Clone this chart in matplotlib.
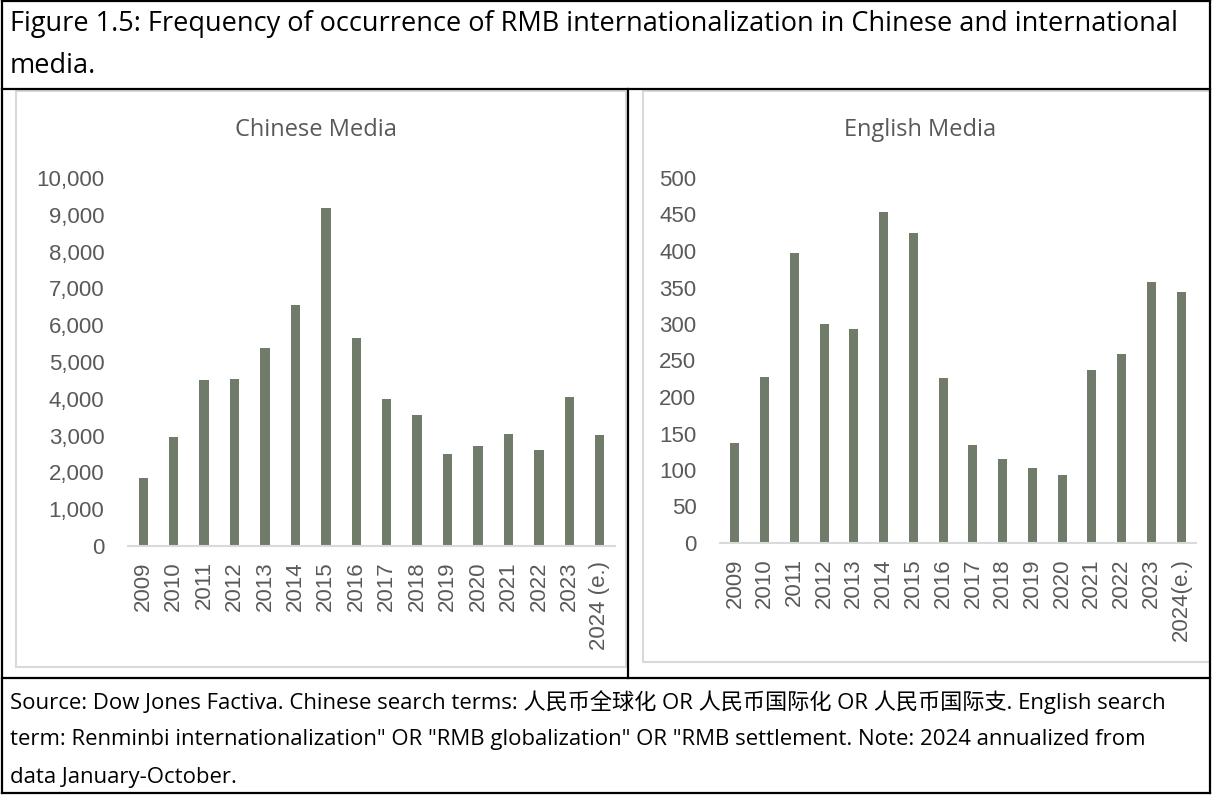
import matplotlib
matplotlib.use("Agg")
import matplotlib.pyplot as plt
from matplotlib.lines import Line2D
from matplotlib.patches import Rectangle

# data: yearly article counts
years = ["2009", "2010", "2011", "2012", "2013", "2014", "2015", "2016",
         "2017", "2018", "2019", "2020", "2021", "2022", "2023"]
cn_labels = years + ["2024 (e.)"]
en_labels = years + ["2024(e.)"]
cn_counts = [1860, 2955, 4520, 4550, 5385, 6545, 9195, 5665,
             4005, 3565, 2495, 2710, 3035, 2610, 4045, 3010]
en_counts = [137, 227, 397, 300, 293, 453, 424, 226,
             134, 115, 103, 93, 237, 259, 358, 344]

cn_ticks = list(range(0, 10001, 1000))
en_ticks = list(range(0, 501, 50))

title_lines = ["Figure 1.5: Frequency of occurrence of RMB internationalization in Chinese and international",
               "media."]
source_lines = ["Source: Dow Jones Factiva. Chinese search terms: 人民币全球化 OR 人民币国际化 OR 人民币国际支. English search",
                "term: Renminbi internationalization\" OR \"RMB globalization\" OR \"RMB settlement. Note: 2024 annualized from",
                "data January-October."]

BAR = "#717B69"
GREY = "#595959"
LIGHT = "#D9D9D9"

W, H = 1212, 796
fig = plt.figure(figsize=(W / 100, H / 100), dpi=100)


def fx(x):
    return x / W


def fy(y):
    return 1 - y / H


def hline(y, x0, x1, color="black", lw=1.6):
    fig.add_artist(Line2D([fx(x0), fx(x1)], [fy(y), fy(y)], color=color, lw=lw))


def vline(x, y0, y1, color="black", lw=1.6):
    fig.add_artist(Line2D([fx(x), fx(x)], [fy(y0), fy(y1)], color=color, lw=lw))


# light frames around each chart
for (x0, y0, x1, y1) in [(16, 91, 626, 667), (643, 91, 1210, 662)]:
    fig.add_artist(Rectangle((fx(x0), fy(y1)), fx(x1) - fx(x0), fy(y0) - fy(y1),
                             fill=False, edgecolor=LIGHT, lw=1.5))

# table borders
hline(1, 2, 1210)
hline(793, 2, 1210)
vline(2, 1, 793)
vline(1210, 1, 793)
hline(89, 2, 1210)
hline(678, 2, 1210)
vline(628, 89, 678)


def bar_panel(rect, values, labels, ticks, fmt, title, title_x):
    ax = fig.add_axes([fx(rect[0]), fy(rect[3]), fx(rect[2] - rect[0]), (rect[3] - rect[1]) / H])
    x = range(len(values))
    ax.bar(x, values, width=0.31, color=BAR)
    ax.set_xlim(-0.5, len(values) - 0.5)
    ax.set_ylim(ticks[0], ticks[-1])
    ax.set_yticks(ticks)
    ax.set_yticklabels([fmt(t) for t in ticks], family="Liberation Sans", fontsize=16, color=GREY)
    ax.set_xticks(list(x))
    ax.set_xticklabels(labels, rotation=90, family="Liberation Sans", fontsize=16, color=GREY)
    ax.tick_params(axis="y", length=0, pad=17)
    ax.tick_params(axis="x", length=0, pad=11)
    for s in ["top", "right", "left"]:
        ax.spines[s].set_visible(False)
    ax.spines["bottom"].set_color(LIGHT)
    ax.spines["bottom"].set_linewidth(1.5)
    fig.text(fx(title_x), fy(130), title, ha="center", va="center",
             family="Open Sans", fontsize=17, color=GREY)
    return ax


bar_panel((128, 178, 615, 546), cn_counts, cn_labels, cn_ticks,
          lambda t: f"{t:,}", "Chinese Media", 316)
bar_panel((720, 178, 1196, 543), en_counts, en_labels, en_ticks,
          lambda t: f"{t}", "English Media", 920)

renderer = fig.canvas.get_renderer()


def text_block(x, ys, lines, width, family):
    # size the first line to the given width, later lines share that size
    first = fig.text(fx(x), fy(ys[0]), lines[0], ha="left", va="center", family=family, fontsize=14)
    size = 14 * width / first.get_window_extent(renderer).width
    first.set_fontsize(size)
    for y, s in zip(ys[1:], lines[1:]):
        fig.text(fx(x), fy(y), s, ha="left", va="center", family=family, fontsize=size)


text_block(10, [24, 66], title_lines, 1170, "Open Sans")
text_block(10, [702, 740, 778], source_lines, 1163, ["Open Sans", "Noto Sans CJK SC"])

fig.savefig("out.png", dpi=100)
